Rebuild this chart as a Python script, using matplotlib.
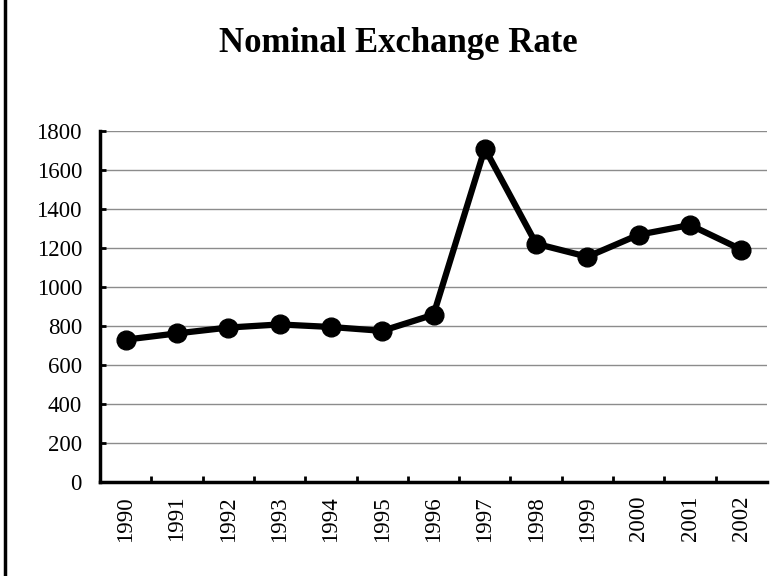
import matplotlib
matplotlib.use("Agg")
import matplotlib.pyplot as plt
from matplotlib.lines import Line2D
import numpy as np

# nominal exchange rate
years = ["1990", "1991", "1992", "1993", "1994", "1995", "1996",
         "1997", "1998", "1999", "2000", "2001", "2002"]
rate = [730, 762, 792, 808, 795, 775, 858, 1710, 1222, 1155, 1268, 1318, 1192]
yticks = [0, 200, 400, 600, 800, 1000, 1200, 1400, 1600, 1800]

plt.rcParams['font.family'] = ['Liberation Serif', 'DejaVu Serif']

fig = plt.figure(figsize=(7.79, 5.76), dpi=100)
ax = fig.add_axes([100/779, 1-482/576, 667/779, 351/576])

x = np.arange(len(years))
ax.plot(x, rate, color='black', lw=4.5, marker='o', ms=13.5, zorder=3)

ax.set_xlim(-0.5, len(years)-0.5)
ax.set_ylim(0, 1800)
ax.set_yticks(yticks)
ax.set_yticklabels([str(v) for v in yticks])
ax.yaxis.grid(True, color='#8c8c8c', lw=1)
ax.set_axisbelow(True)

ax.set_xticks(x)
ax.set_xticklabels(years, rotation=90)
ax.set_xticks(np.arange(0.5, len(years)-1, 1), minor=True)
ax.tick_params(axis='x', which='major', length=0, pad=10, labelsize=16.5)
ax.tick_params(axis='x', which='minor', direction='in', length=4, width=2)
ax.tick_params(axis='y', direction='in', length=4, width=2, pad=13, labelsize=16.5)

for s in ['top', 'right']:
    ax.spines[s].set_visible(False)
for s in ['left', 'bottom']:
    ax.spines[s].set_linewidth(2.5)

fig.text(398/779, 1-52/576, "Nominal Exchange Rate", ha='center', va='baseline',
         fontsize=25, fontweight='bold')

# frame edge on the left
fig.add_artist(Line2D([5/779, 5/779], [0, 1], color='black', lw=2.5,
                      transform=fig.transFigure))

fig.savefig("out.png", dpi=100)
